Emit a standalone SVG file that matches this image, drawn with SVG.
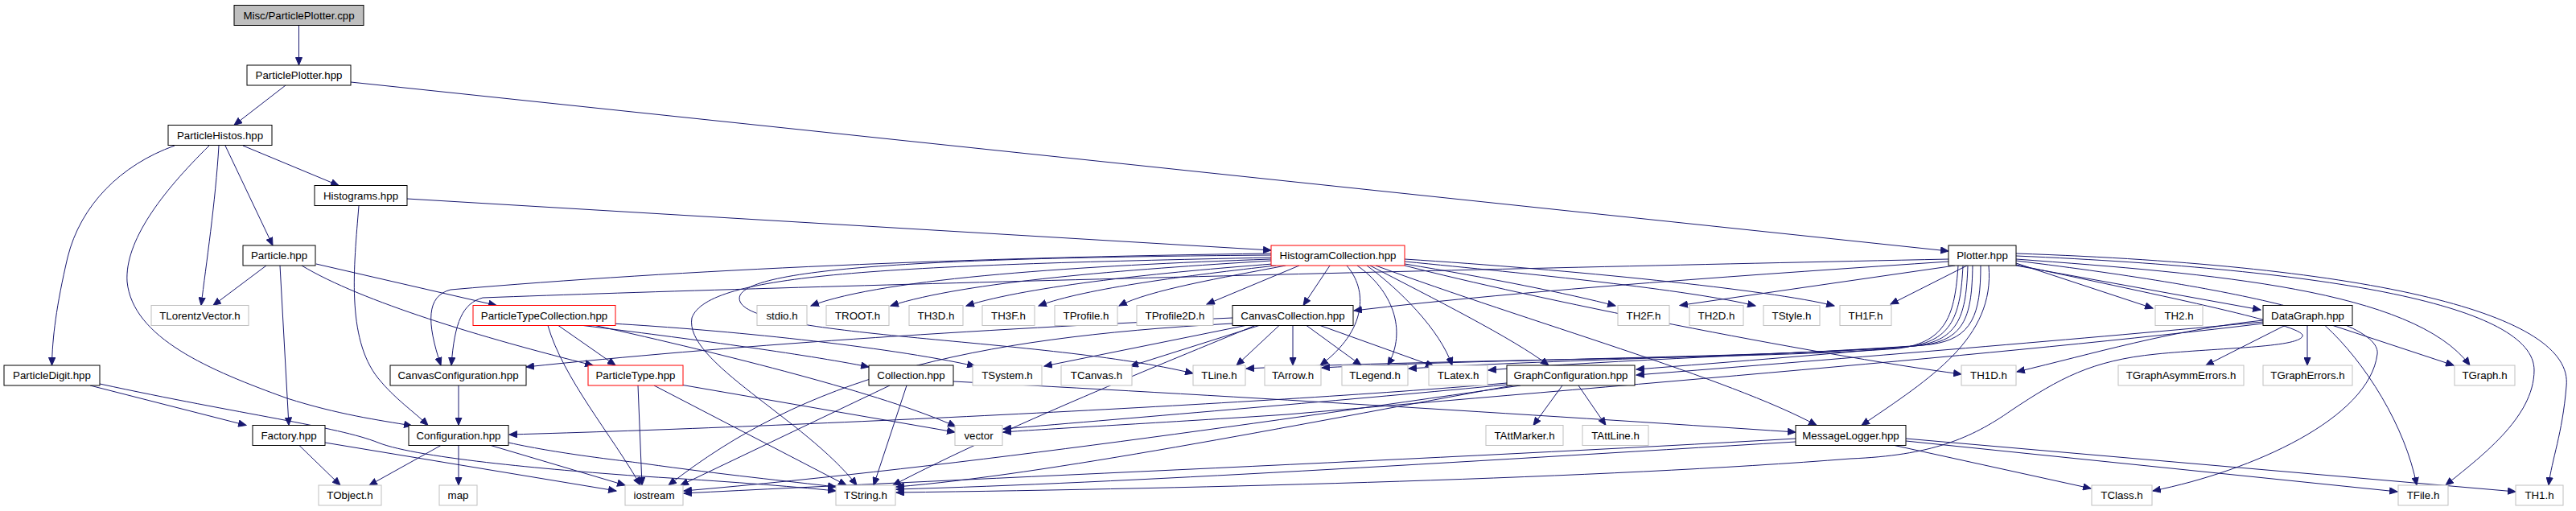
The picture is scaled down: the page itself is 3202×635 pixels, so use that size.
<svg xmlns="http://www.w3.org/2000/svg" width="3202" height="635" viewBox="0 0 3202 635">
<defs>
<style>
rect{fill:#fff;stroke:#000;stroke-width:1}
rect.g{stroke:#bfbfbf}
rect.r{stroke:#ff0000}
rect.root{fill:#bfbfbf}
text{font-family:"Liberation Sans",Arial,sans-serif;font-size:13.3px;fill:#000;text-anchor:middle}
#edges path{fill:none;stroke:#191970;stroke-width:1;marker-end:url(#ar)}
</style>
<marker id="ar" markerWidth="11" markerHeight="9" refX="10" refY="4.5" orient="auto" markerUnits="userSpaceOnUse"><path d="M0.5,0.5 L10,4.5 L0.5,8.5 z" fill="#191970" stroke="#191970" stroke-width="1"/></marker>
</defs>
<rect x="0" y="0" width="3202" height="635" style="fill:#fff;stroke:none"/>
<g id="edges">
<path d="M371.5,32 L371.5,81"/>
<path d="M355,106 L291,155.5"/>
<path d="M436,102 L2422,312"/>
<path d="M302,181 L421,230.5"/>
<path d="M280,181 L339,305"/>
<path d="M272,181 C268,250 256,330 250,379.5"/>
<path d="M217,181 C150,205 100,255 84,320 C70,380 65,420 64.5,454"/>
<path d="M260,181 C200,240 155,300 158,350 C165,420 260,460 357,495 C420,515 470,522 512,529"/>
<path d="M506,247 L1580,311"/>
<path d="M446,256 C440,330 430,420 470,470 C490,495 515,512 532,528.5"/>
<path d="M331,330 L265,379.5"/>
<path d="M348,330 L359,528.5"/>
<path d="M393,328 L617,379.5"/>
<path d="M375,330 C450,375 600,420 737,454"/>
<path d="M112,479 L306,528.5"/>
<path d="M124,477 C300,515 420,530 470,550 C520,570 700,585 800,592 C900,598 980,604 1039,610"/>
<path d="M372,553.5 L423,603"/>
<path d="M404,550 L766,610"/>
<path d="M548,553.5 L459,603"/>
<path d="M570,553.5 L570,603"/>
<path d="M610,553.5 L777,603"/>
<path d="M632,550 C700,565 780,573 800,576 C900,590 980,598 1039,605"/>
<path d="M570,479 L570,528.5"/>
<path d="M694,404.5 L765,454"/>
<path d="M681,404.5 C700,470 760,540 796,603"/>
<path d="M725,404.5 C850,420 1000,440 1080,456"/>
<path d="M740,404.5 C900,440 1100,490 1188,530"/>
<path d="M760,402 C900,410 1100,430 1212,455"/>
<path d="M793,479 L798,603"/>
<path d="M813,479 L1052,603"/>
<path d="M846,478 L1187,537"/>
<path d="M1106,479 L846,603"/>
<path d="M1127,479 L1086,603"/>
<path d="M1185,474 C1500,490 1900,515 2232,537"/>
<path d="M1532,395 C1200,410 900,430 654,456"/>
<path d="M1548,404.5 L1298,455"/>
<path d="M1565,404.5 L1405,455"/>
<path d="M1590,404.5 L1537,454"/>
<path d="M1607,404.5 L1607,454"/>
<path d="M1624,404.5 L1692,454"/>
<path d="M1641,404.5 L1782,455"/>
<path d="M1532,402 C1200,420 1000,470 831,603"/>
<path d="M1560,404.5 C1450,450 1250,530 1110,603"/>
<path d="M1580,322 C1350,330 1100,345 1008,380"/>
<path d="M1580,324 C1400,335 1200,350 1107,380"/>
<path d="M1582,328 C1450,338 1280,355 1201,380"/>
<path d="M1586,330 C1480,342 1350,358 1291,380"/>
<path d="M1598,330 C1520,345 1430,360 1391,380"/>
<path d="M1615,330 L1500,378"/>
<path d="M1653,330 L1620,379.5"/>
<path d="M1674,330 C1700,360 1700,410 1641,454"/>
<path d="M1687,330 C1730,360 1750,410 1725,454"/>
<path d="M1699,330 C1740,360 1790,410 1805,454"/>
<path d="M1703,330 C1780,370 1880,420 1925,454"/>
<path d="M1710,330 C1900,400 2150,470 2258,528.5"/>
<path d="M1746,328 C1850,345 1950,365 2008,380"/>
<path d="M1746,325 C1900,340 2100,360 2182,380"/>
<path d="M1746,322 C1950,335 2200,360 2280,380"/>
<path d="M1746,330 C1900,370 2250,440 2438,465"/>
<path d="M1580,317 C1200,320 900,330 920,375 C940,420 1300,420 1483,464"/>
<path d="M1580,320 C1100,330 880,340 860,395 C850,450 1000,520 1065,603"/>
<path d="M1580,315 C1200,320 850,335 560,360 C530,368 530,400 548,454"/>
<path d="M2422,322 C1800,335 1000,355 600,370 C575,377 565,400 561,454"/>
<path d="M2422,325 C2200,340 1900,360 1683,386"/>
<path d="M2430,330 L2088,379.5"/>
<path d="M2445,330 L2350,378"/>
<path d="M2462,330 C2462,390 2452,421 2400,428 C2300,438 2150,450 2034,459"/>
<path d="M2434,330 C2430,390 2420,425 2360,433 C2200,446 1800,446 1549,458"/>
<path d="M2440,330 C2437,390 2428,424 2370,431 C2200,444 1850,446 1643,457"/>
<path d="M2446,330 C2444,390 2436,423 2380,430 C2220,442 1950,446 1751,458"/>
<path d="M2452,330 C2451,390 2444,422 2390,429 C2240,440 2000,447 1850,460"/>
<path d="M2472,330 C2480,420 2400,470 2314,528.5"/>
<path d="M2506,327 L2676,383"/>
<path d="M2506,330 L2810,385"/>
<path d="M2506,322 C2750,340 3000,360 3070,454"/>
<path d="M2506,318 C2900,335 3150,380 3150,460 C3150,520 3080,570 3040,603"/>
<path d="M2506,315 C2950,330 3200,390 3190,480 C3185,540 3172,570 3168,603"/>
<path d="M2506,324 C2800,360 2960,400 2955,440 C2945,520 2800,585 2676,610"/>
<path d="M2506,329 C2700,370 2870,405 2862,418 C2855,432 2760,432 2680,440 C2600,448 2560,470 2500,510 C2450,545 2400,566 2300,570 C2000,594 1500,607 1114,612"/>
<path d="M2840,404.5 L2742,454"/>
<path d="M2868,404.5 L2868,454"/>
<path d="M2900,404.5 L3050,454"/>
<path d="M2890,404.5 C2940,450 2990,530 3004,603"/>
<path d="M2813,398 C2700,410 2600,440 2507,462"/>
<path d="M2813,400 C2600,420 2300,445 2034,466"/>
<path d="M2813,402 C2500,440 2000,480 1600,515 C1450,525 1300,533 1247,537"/>
<path d="M2355,553.5 L2599,607"/>
<path d="M2369,548 L2980,611"/>
<path d="M2369,545 L3127,611"/>
<path d="M2232,545 C1800,570 1200,595 850,613"/>
<path d="M2232,549 C1800,575 1400,600 1114,608"/>
<path d="M1942,479 L1906,528.5"/>
<path d="M1962,479 L1996,528.5"/>
<path d="M1873,476 C1600,500 1000,530 633,540"/>
<path d="M1873,478 C1700,495 1400,520 1247,533"/>
<path d="M1890,479 C1600,520 1200,580 850,610"/>
<path d="M1880,479 C1600,530 1300,590 1114,605"/>
</g>
<g id="n_root"><rect class="root" x="291" y="6.5" width="161" height="25"/><text x="371.5" y="23.5">Misc/ParticlePlotter.cpp</text></g>
<g id="n_ParticlePlotter"><rect x="307" y="81" width="129" height="25"/><text x="371.5" y="98">ParticlePlotter.hpp</text></g>
<g id="n_ParticleHistos"><rect x="209" y="155.5" width="129" height="25"/><text x="273.5" y="172.5">ParticleHistos.hpp</text></g>
<g id="n_Histograms"><rect x="391" y="230.5" width="115" height="25"/><text x="448.5" y="247.5">Histograms.hpp</text></g>
<g id="n_Particle"><rect x="302" y="305" width="90" height="25"/><text x="347" y="322">Particle.hpp</text></g>
<g id="n_HistogramCollection"><rect class="r" x="1580" y="305" width="166" height="25"/><text x="1663" y="322">HistogramCollection.hpp</text></g>
<g id="n_Plotter"><rect x="2422" y="305" width="84" height="25"/><text x="2464" y="322">Plotter.hpp</text></g>
<g id="n_TLorentzVector"><rect class="g" x="188" y="379.5" width="121" height="25"/><text x="248.5" y="396.5">TLorentzVector.h</text></g>
<g id="n_ParticleTypeCollection"><rect class="r" x="588" y="379.5" width="177" height="25"/><text x="676.5" y="396.5">ParticleTypeCollection.hpp</text></g>
<g id="n_stdio"><rect class="g" x="941" y="379.5" width="62" height="25"/><text x="972" y="396.5">stdio.h</text></g>
<g id="n_TROOT"><rect class="g" x="1027" y="379.5" width="78" height="25"/><text x="1066" y="396.5">TROOT.h</text></g>
<g id="n_TH3D"><rect class="g" x="1130" y="379.5" width="67" height="25"/><text x="1163.5" y="396.5">TH3D.h</text></g>
<g id="n_TH3F"><rect class="g" x="1221" y="379.5" width="65" height="25"/><text x="1253.5" y="396.5">TH3F.h</text></g>
<g id="n_TProfile"><rect class="g" x="1311" y="379.5" width="78" height="25"/><text x="1350" y="396.5">TProfile.h</text></g>
<g id="n_TProfile2D"><rect class="g" x="1413" y="379.5" width="95" height="25"/><text x="1460.5" y="396.5">TProfile2D.h</text></g>
<g id="n_CanvasCollection"><rect x="1532" y="379.5" width="150" height="25"/><text x="1607" y="396.5">CanvasCollection.hpp</text></g>
<g id="n_TH2F"><rect class="g" x="2011" y="379.5" width="64" height="25"/><text x="2043" y="396.5">TH2F.h</text></g>
<g id="n_TH2D"><rect class="g" x="2100" y="379.5" width="67" height="25"/><text x="2133.5" y="396.5">TH2D.h</text></g>
<g id="n_TStyle"><rect class="g" x="2192" y="379.5" width="70" height="25"/><text x="2227" y="396.5">TStyle.h</text></g>
<g id="n_TH1F"><rect class="g" x="2287" y="379.5" width="64" height="25"/><text x="2319" y="396.5">TH1F.h</text></g>
<g id="n_TH2"><rect class="g" x="2679" y="379.5" width="59" height="25"/><text x="2708.5" y="396.5">TH2.h</text></g>
<g id="n_DataGraph"><rect x="2813" y="379.5" width="111" height="25"/><text x="2868.5" y="396.5">DataGraph.hpp</text></g>
<g id="n_ParticleDigit"><rect x="5" y="454" width="119" height="25"/><text x="64.5" y="471">ParticleDigit.hpp</text></g>
<g id="n_CanvasConfiguration"><rect x="485" y="454" width="169" height="25"/><text x="569.5" y="471">CanvasConfiguration.hpp</text></g>
<g id="n_ParticleType"><rect class="r" x="731" y="454" width="118" height="25"/><text x="790" y="471">ParticleType.hpp</text></g>
<g id="n_Collection"><rect x="1080" y="454" width="105" height="25"/><text x="1132.5" y="471">Collection.hpp</text></g>
<g id="n_TSystem"><rect class="g" x="1209" y="454" width="86" height="25"/><text x="1252" y="471">TSystem.h</text></g>
<g id="n_TCanvas"><rect class="g" x="1319" y="454" width="88" height="25"/><text x="1363" y="471">TCanvas.h</text></g>
<g id="n_TLine"><rect class="g" x="1483" y="454" width="65" height="25"/><text x="1515.5" y="471">TLine.h</text></g>
<g id="n_TArrow"><rect class="g" x="1572" y="454" width="70" height="25"/><text x="1607" y="471">TArrow.h</text></g>
<g id="n_TLegend"><rect class="g" x="1668" y="454" width="82" height="25"/><text x="1709" y="471">TLegend.h</text></g>
<g id="n_TLatex"><rect class="g" x="1776" y="454" width="73" height="25"/><text x="1812.5" y="471">TLatex.h</text></g>
<g id="n_GraphConfiguration"><rect x="1873" y="454" width="159" height="25"/><text x="1952.5" y="471">GraphConfiguration.hpp</text></g>
<g id="n_TH1D"><rect class="g" x="2438" y="454" width="68" height="25"/><text x="2472" y="471">TH1D.h</text></g>
<g id="n_TGraphAsymmErrors"><rect class="g" x="2633" y="454" width="156" height="25"/><text x="2711" y="471">TGraphAsymmErrors.h</text></g>
<g id="n_TGraphErrors"><rect class="g" x="2813" y="454" width="111" height="25"/><text x="2868.5" y="471">TGraphErrors.h</text></g>
<g id="n_TGraph"><rect class="g" x="3051" y="454" width="75" height="25"/><text x="3088.5" y="471">TGraph.h</text></g>
<g id="n_Factory"><rect x="314" y="528.5" width="90" height="25"/><text x="359" y="545.5">Factory.hpp</text></g>
<g id="n_Configuration"><rect x="508" y="528.5" width="124" height="25"/><text x="570" y="545.5">Configuration.hpp</text></g>
<g id="n_vector"><rect class="g" x="1187" y="528.5" width="59" height="25"/><text x="1216.5" y="545.5">vector</text></g>
<g id="n_TAttMarker"><rect class="g" x="1847" y="528.5" width="96" height="25"/><text x="1895" y="545.5">TAttMarker.h</text></g>
<g id="n_TAttLine"><rect class="g" x="1967" y="528.5" width="82" height="25"/><text x="2008" y="545.5">TAttLine.h</text></g>
<g id="n_MessageLogger"><rect x="2232" y="528.5" width="137" height="25"/><text x="2300.5" y="545.5">MessageLogger.hpp</text></g>
<g id="n_TObject"><rect class="g" x="396" y="603" width="78" height="25"/><text x="435" y="620">TObject.h</text></g>
<g id="n_map"><rect class="g" x="546" y="603" width="47" height="25"/><text x="569.5" y="620">map</text></g>
<g id="n_iostream"><rect class="g" x="777" y="603" width="72" height="25"/><text x="813" y="620">iostream</text></g>
<g id="n_TString"><rect class="g" x="1039" y="603" width="74" height="25"/><text x="1076" y="620">TString.h</text></g>
<g id="n_TClass"><rect class="g" x="2600" y="603" width="75" height="25"/><text x="2637.5" y="620">TClass.h</text></g>
<g id="n_TFile"><rect class="g" x="2981" y="603" width="62" height="25"/><text x="3012" y="620">TFile.h</text></g>
<g id="n_TH1"><rect class="g" x="3127" y="603" width="59" height="25"/><text x="3156.5" y="620">TH1.h</text></g>
</svg>
